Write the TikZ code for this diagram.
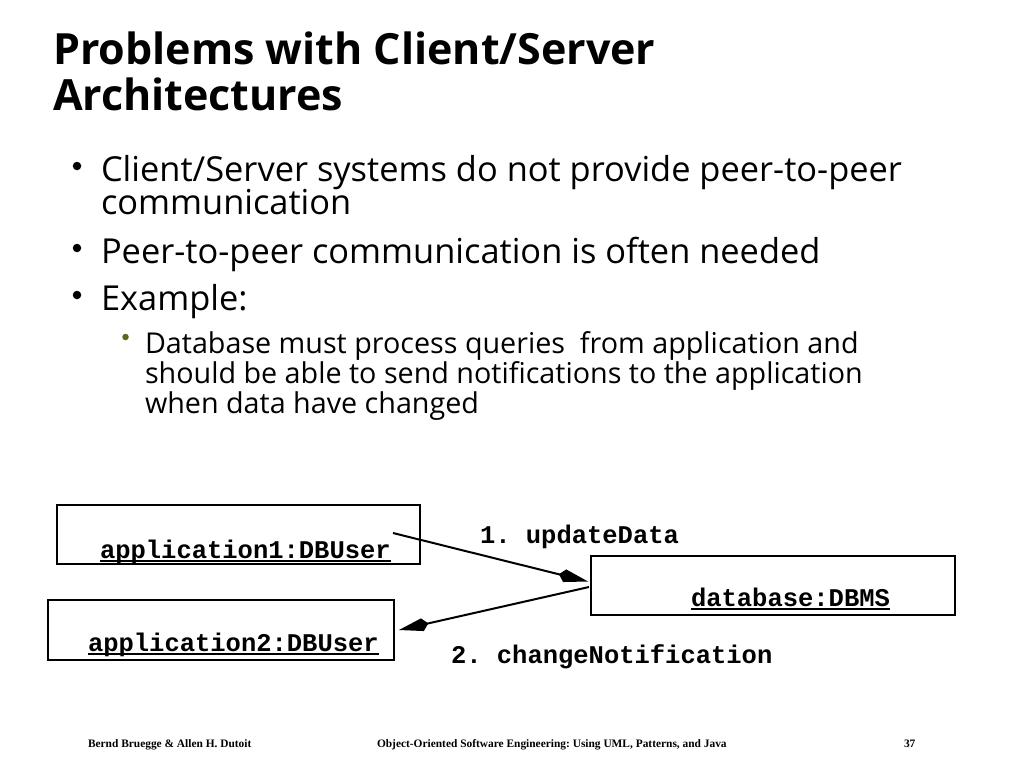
\documentclass[tikz,border=0pt]{standalone}
\usepackage{fontspec}
\setmainfont{Open Sans}
\newfontfamily\monofont{Liberation Mono}
\newfontfamily\footfont{Liberation Serif}
\usetikzlibrary{arrows.meta,calc}
\definecolor{subbullet}{RGB}{85,107,20}
\newcommand\myul[1]{\setbox0\hbox{#1}\rlap{\rule[-3.5pt]{\wd0}{1.4pt}}\box0}
\frenchspacing
\tikzset{
  txt/.style={anchor=base west, inner sep=0pt, outer sep=0pt},
  titletxt/.style={txt, font=\fontsize{43}{46}\selectfont\bfseries},
  bodytxt/.style={txt, font=\fontsize{34.4}{38}\selectfont},
  subtxt/.style={txt, font=\fontsize{28.7}{31}\selectfont},
  monotxt/.style={txt, font=\monofont\fontsize{25.5}{28}\selectfont\bfseries},
  foottxt/.style={txt, font=\footfont\fontsize{11.4}{13}\selectfont\bfseries},
  bigbullet/.style={circle, fill=black, inner sep=0pt, minimum size=8.5pt},
  smallbullet/.style={circle, fill=subbullet, inner sep=0pt, minimum size=6.5pt},
  objbox/.style={draw=black, line width=2pt, inner sep=0pt},
  msg/.style={line width=2pt, -{Kite[length=30pt,width=13pt,inset=6pt]}}
}
\begin{document}
\begin{tikzpicture}[x=1pt,y=-1pt]
\useasboundingbox (0,0) rectangle (1024,768);
\fill[white] (0,0) rectangle (1024,768);

% title
\node[titletxt] (t1) at (53,64) {Problems with Client/Server};
\node[titletxt] (t2) at (53,110) {Architectures};

% bullets
\node[bigbullet] (b1) at (77,166) {};
\node[bodytxt] (l1) at (101,181) {Client/Server systems do not provide peer-to-peer};
\node[bodytxt] (l2) at (101,214) {communication};
\node[bigbullet] (b2) at (77,248) {};
\node[bodytxt] (l3) at (101,263) {Peer-to-peer communication is often needed};
\node[bigbullet] (b3) at (77,295) {};
\node[bodytxt] (l4) at (101,310) {Example:};
\node[smallbullet] (b4) at (125.5,337) {};
\node[subtxt] (s1) at (145,353) {Database must process queries\ \ from application and};
\node[subtxt] (s2) at (145,383) {should be able to send notifications to the application};
\node[subtxt] (s3) at (145,413) {when data have changed};

% diagram boxes
\node[objbox, minimum width=363pt, minimum height=59pt] (app1) at (238.5,534.5) {};
\node[objbox, minimum width=346pt, minimum height=60pt] (app2) at (221,630) {};
\node[objbox, minimum width=364pt, minimum height=59pt] (db) at (773,585.5) {};

\node[monotxt] (a1txt) at (100,558) {\myul{application1:DBUser}};
\node[monotxt] (a2txt) at (88,651) {\myul{application2:DBUser}};
\node[monotxt] (dbtxt) at (691,606) {\myul{database:DBMS}};

\node[monotxt] (m1) at (480,543) {1. updateData};
\node[monotxt] (m2) at (451,663) {2. changeNotification};

% messages
\coordinate (m1start) at (393,533);
\draw[msg] (m1start) -- ($(db.west)+(-2,-4)$);
\draw[msg] ($(db.west)+(-1,1.5)$) -- ($(app2.east)+(4,0)$);

% footer
\node[foottxt] (f1) at (88,747) {Bernd Bruegge \& Allen H. Dutoit};
\node[foottxt] (f2) at (377,747) {Object-Oriented Software Engineering: Using UML, Patterns, and Java};
\node[foottxt] (f3) at (904,747) {37};
\end{tikzpicture}
\end{document}
